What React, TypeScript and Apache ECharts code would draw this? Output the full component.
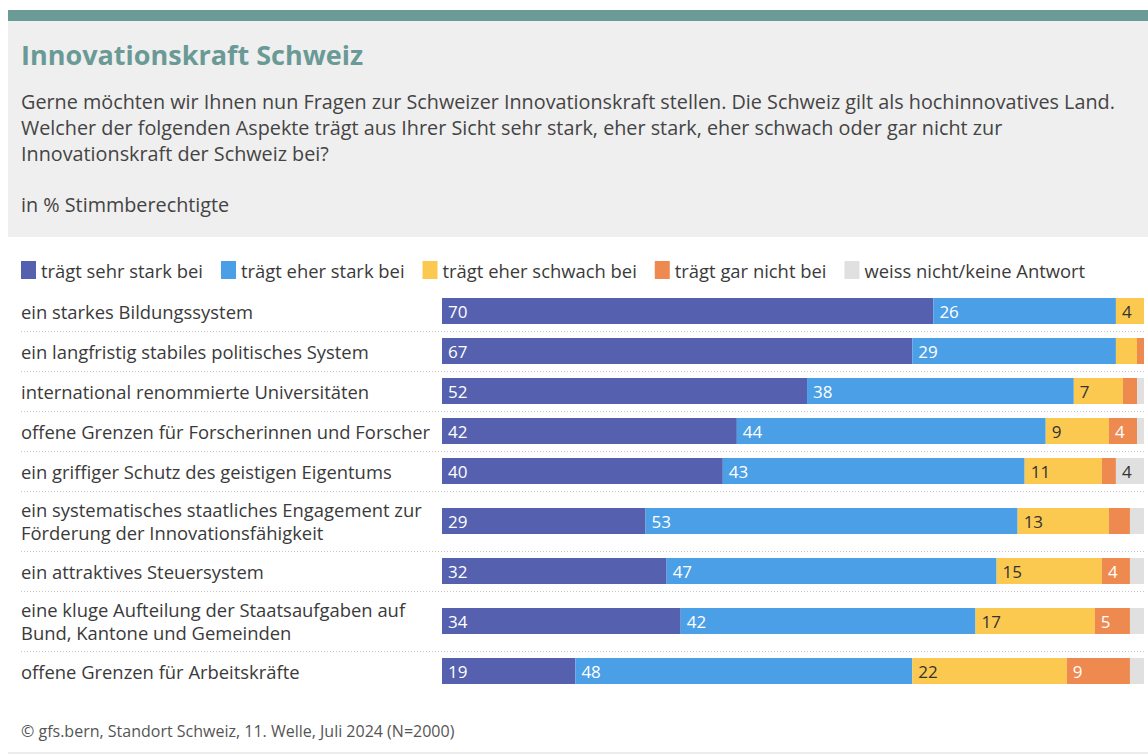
import React, { useEffect, useRef } from "react";
import * as echarts from "echarts";

const categories = [
  "ein starkes Bildungssystem",
  "ein langfristig stabiles politisches System",
  "international renommierte Universitäten",
  "offene Grenzen für Forscherinnen und Forscher",
  "ein griffiger Schutz des geistigen Eigentums",
  "ein systematisches staatliches Engagement zur Förderung der Innovationsfähigkeit",
  "ein attraktives Steuersystem",
  "eine kluge Aufteilung der Staatsaufgaben auf Bund, Kantone und Gemeinden",
  "offene Grenzen für Arbeitskräfte",
];

const seriesNames = [
  "trägt sehr stark bei",
  "trägt eher stark bei",
  "trägt eher schwach bei",
  "trägt gar nicht bei",
  "weiss nicht/keine Antwort",
];

const sehrStark = [70, 67, 52, 42, 40, 29, 32, 34, 19];
const eherStark = [26, 29, 38, 44, 43, 53, 47, 42, 48];
const eherSchwach = [4, 3, 7, 9, 11, 13, 15, 17, 22];
const garNicht = [0, 1, 2, 4, 2, 3, 4, 5, 9];
const weissNicht = [0, 0, 1, 1, 4, 2, 2, 2, 2];

const seriesValues = [sehrStark, eherStark, eherSchwach, garNicht, weissNicht];
const seriesColors = ["#5560ae", "#4a9fe6", "#fbc94f", "#ee8950", "#e0e0e0"];
const labelColors = ["#ffffff", "#ffffff", "#333333", "#ffffff", "#333333"];

const titleText = "Innovationskraft Schweiz";
const subtitleLines = [
  "Gerne möchten wir Ihnen nun Fragen zur Schweizer Innovationskraft stellen. Die Schweiz gilt als hochinnovatives Land.",
  "Welcher der folgenden Aspekte trägt aus Ihrer Sicht sehr stark, eher stark, eher schwach oder gar nicht zur",
  "Innovationskraft der Schweiz bei?",
];
const unitText = "in % Stimmberechtigte";
const sourceText = "© gfs.bern, Standort Schweiz, 11. Welle, Juli 2024 (N=2000)";

// layout
const rowHeights = [40, 40, 40, 40, 40, 60, 40, 60, 40];
const FONT = "'Open Sans', 'Noto Sans', sans-serif";

export default function App() {
  const ref = useRef<HTMLDivElement>(null);

  useEffect(() => {
    if (!ref.current) return;
    const chart = echarts.init(ref.current, undefined, { renderer: "svg" });

    const rowTops: number[] = [];
    let t = 291;
    rowHeights.forEach((h) => {
      rowTops.push(t);
      t += h;
    });

    const grids = rowTops.map((top, i) => ({
      left: 442,
      width: 702,
      top,
      height: rowHeights[i],
      containLabel: false,
    }));
    const xAxes = rowTops.map((_, i) => ({
      type: "value",
      gridIndex: i,
      min: 0,
      max: 100,
      show: false,
    }));
    const yAxes = rowTops.map((_, i) => ({
      type: "category",
      gridIndex: i,
      data: [categories[i]],
      axisLine: { show: false },
      axisTick: { show: false },
      splitLine: { show: false },
      axisLabel: {
        align: "left",
        margin: 421,
        fontSize: 18.4,
        fontFamily: FONT,
        color: "#3a3a3a",
        width: 416,
        overflow: "break",
        lineHeight: 23,
      },
    }));

    const series: any[] = [];
    rowTops.forEach((_, i) => {
      seriesValues.forEach((vals, s) => {
        series.push({
          type: "bar",
          name: seriesNames[s],
          xAxisIndex: i,
          yAxisIndex: i,
          stack: "row" + i,
          barWidth: 26,
          data: [vals[i]],
          itemStyle: { color: seriesColors[s] },
          label: {
            show: true,
            position: "insideLeft",
            distance: 6,
            color: labelColors[s],
            fontSize: 17,
            fontFamily: FONT,
            formatter: (p: any) => (p.value >= 4 ? String(p.value) : ""),
          },
        });
      });
    });

    const separators = rowTops.slice(1).map((top) => ({
      type: "line",
      shape: { x1: 21, y1: top + 0.5, x2: 1144, y2: top + 0.5 },
      style: { stroke: "#c8c8c8", lineWidth: 1, lineDash: [1, 2] },
      silent: true,
    }));

    const graphics: any[] = [
      { type: "rect", shape: { x: 8, y: 10, width: 1140, height: 11 }, style: { fill: "#6b9b97" } },
      { type: "rect", shape: { x: 8, y: 21, width: 1140, height: 216 }, style: { fill: "#efefef" } },
      {
        type: "text",
        x: 21,
        y: 54,
        style: {
          text: titleText,
          fill: "#6a9a96",
          font: `bold 27px ${FONT}`,
          verticalAlign: "middle",
        },
      },
      ...subtitleLines.map((line, i) => ({
        type: "text",
        x: 21,
        y: 101 + i * 26,
        style: { text: line, fill: "#444444", font: `19.8px ${FONT}`, verticalAlign: "middle" },
      })),
      {
        type: "text",
        x: 21,
        y: 204,
        style: { text: unitText, fill: "#444444", font: `19.8px ${FONT}`, verticalAlign: "middle" },
      },
      {
        type: "text",
        x: 21,
        y: 731,
        style: { text: sourceText, fill: "#555555", font: `16px ${FONT}`, verticalAlign: "middle" },
      },
      { type: "rect", shape: { x: 8, y: 752, width: 1140, height: 2 }, style: { fill: "#ececec" } },
      ...separators,
    ];

    chart.setOption({
      animation: false,
      backgroundColor: "#ffffff",
      legend: {
        data: seriesNames,
        left: 21,
        top: 261,
        padding: 0,
        itemWidth: 15,
        itemHeight: 18,
        itemGap: 18,
        icon: "rect",
        textStyle: { fontSize: 18.4, fontFamily: FONT, color: "#3a3a3a" },
        selectedMode: false,
      },
      grid: grids,
      xAxis: xAxes,
      yAxis: yAxes,
      series,
      graphic: graphics,
    });

    return () => chart.dispose();
  }, []);

  return (
    <div
      ref={ref}
      style={{ position: "absolute", left: 0, top: 0, width: 1148, height: 755 }}
    />
  );
}
